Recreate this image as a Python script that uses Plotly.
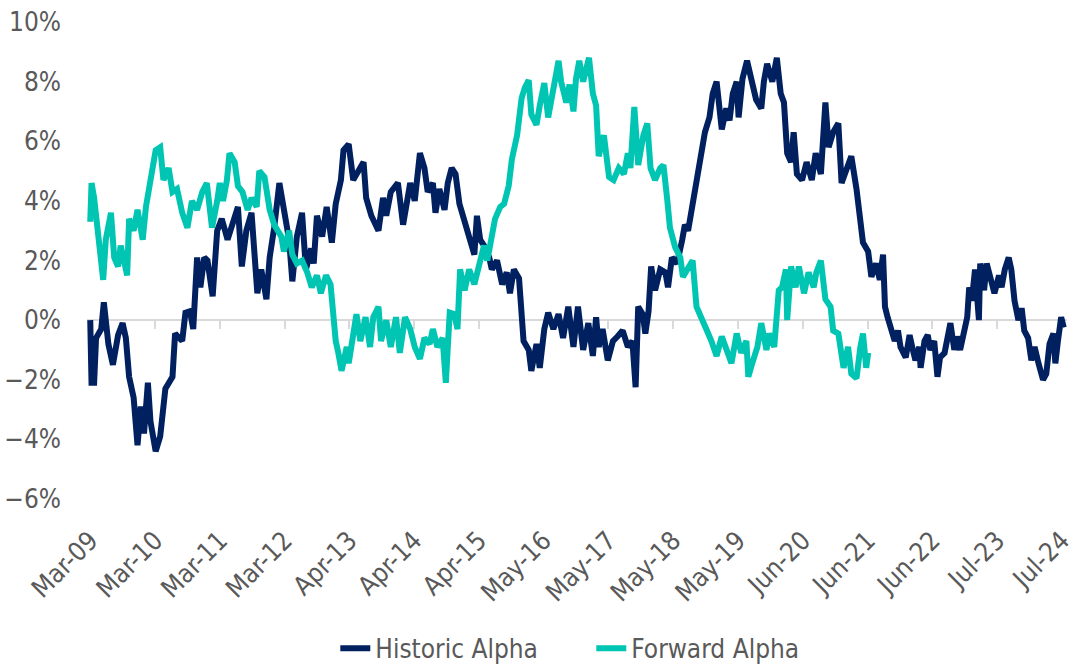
import plotly.graph_objects as go

# Time axis: years elapsed since Mar-09 (one tick label per year step)
tick_labels = ["Mar-09", "Mar-10", "Mar-11", "Mar-12", "Apr-13", "Apr-14", "Apr-15", "May-16",
               "May-17", "May-18", "May-19", "Jun-20", "Jun-21", "Jun-22", "Jul-23", "Jul-24"]
tick_pos = list(range(len(tick_labels)))

# Historic Alpha (%)
hist_t = [0.00, 0.02, 0.06, 0.09, 0.17, 0.21, 0.28, 0.35, 0.43, 0.50, 0.55, 0.60, 0.67, 0.73, 0.78,
          0.83, 0.89, 0.93, 1.01, 1.08, 1.16, 1.27, 1.31, 1.42, 1.47, 1.54, 1.59, 1.65, 1.70, 1.76,
          1.81, 1.86, 1.89, 1.96, 2.03, 2.12, 2.20, 2.28, 2.34, 2.41, 2.49, 2.54, 2.58, 2.64, 2.72,
          2.77, 2.84, 2.92, 2.99, 3.07, 3.12, 3.19, 3.27, 3.33, 3.41, 3.45, 3.50, 3.58, 3.65, 3.73,
          3.79, 3.87, 3.91, 3.99, 4.06, 4.14, 4.22, 4.26, 4.34, 4.45, 4.52, 4.57, 4.64, 4.75, 4.83,
          4.94, 5.01, 5.09, 5.16, 5.21, 5.29, 5.33, 5.39, 5.47, 5.52, 5.58, 5.64, 5.70, 5.78, 5.85,
          5.93, 5.97, 6.02, 6.08, 6.16, 6.20, 6.28, 6.36, 6.43, 6.48, 6.54, 6.62, 6.66, 6.69, 6.77,
          6.81, 6.89, 6.94, 7.01, 7.07, 7.15, 7.23, 7.30, 7.38, 7.46, 7.53, 7.61, 7.69, 7.76, 7.81,
          7.85, 7.91, 7.99, 8.07, 8.14, 8.22, 8.30, 8.37, 8.42, 8.46, 8.53, 8.57, 8.62, 8.66, 8.72,
          8.80, 8.88, 8.92, 8.98, 9.06, 9.14, 9.18, 9.23, 9.29, 9.36, 9.41, 9.49, 9.56, 9.61, 9.67,
          9.75, 9.82, 9.87, 9.92, 9.98, 10.01, 10.07, 10.14, 10.21, 10.28, 10.36, 10.40, 10.45, 10.53,
          10.60, 10.66, 10.71, 10.76, 10.82, 10.86, 10.91, 10.99, 11.06, 11.14, 11.20, 11.28, 11.35,
          11.40, 11.47, 11.55, 11.60, 11.67, 11.75, 11.83, 11.89, 11.93, 12.01, 12.06, 12.13, 12.19,
          12.24, 12.27, 12.31, 12.36, 12.42, 12.47, 12.51, 12.59, 12.65, 12.70, 12.74, 12.80, 12.82,
          12.88, 12.93, 12.97, 13.03, 13.08, 13.12, 13.19, 13.23, 13.28, 13.34, 13.38, 13.43, 13.49,
          13.54, 13.57, 13.61, 13.66, 13.72, 13.74, 13.80, 13.84, 13.89, 13.96, 14.03, 14.07, 14.12,
          14.18, 14.22, 14.27, 14.33, 14.38, 14.42, 14.48, 14.53, 14.58, 14.64, 14.71, 14.76, 14.81,
          14.87, 14.90, 14.94, 14.99, 15.03]
hist_alpha = [0.0, -2.1, -2.1, -0.6, -0.3, 0.6, -0.8, -1.5, -0.5, -0.1, -0.6, -1.9, -2.6, -4.2, -2.9,
              -3.8, -2.1, -3.4, -4.4, -3.9, -2.3, -1.9, -0.45, -0.7, 0.25, 0.3, -0.3, 2.1, 1.1, 2.1,
              2.0, 1.2, 0.8, 3.0, 3.4, 2.7, 3.2, 3.8, 1.8, 3.0, 3.6, 1.9, 0.9, 1.7, 0.7,
              2.1, 3.1, 4.6, 3.6, 2.7, 1.3, 2.8, 3.6, 1.7, 2.4, 1.9, 3.5, 2.8, 3.8, 2.6,
              3.9, 4.7, 5.7, 5.9, 4.7, 5.0, 5.3, 4.1, 3.5, 3.0, 4.1, 3.5, 4.3, 4.6, 3.2,
              4.6, 4.0, 5.6, 5.1, 4.3, 4.6, 3.6, 4.4, 3.7, 4.6, 5.1, 4.9, 3.9, 3.3, 2.8,
              2.2, 3.5, 2.7, 2.5, 2.1, 1.7, 2.0, 1.2, 1.6, 0.9, 1.7, 1.4, 0.3, -0.7, -1.0,
              -1.7, -0.8, -1.6, -0.3, 0.25, -0.3, 0.2, -0.6, 0.45, -0.9, 0.45, -1.0, -0.1, -1.2, 0.1,
              -0.9, -0.3, -1.35, -0.7, -0.55, -0.35, -0.9, -0.7, -2.25, 0.45, 0.2, -0.45, 0.3, 1.8, 1.0,
              1.7, 1.6, 1.1, 2.1, 1.9, 2.7, 3.2, 3.0, 3.8, 4.6, 5.4, 6.3, 6.8, 7.6, 8.0,
              6.4, 7.1, 6.7, 7.6, 8.0, 6.8, 8.1, 8.7, 8.05, 7.4, 7.1, 8.0, 8.6, 8.0,
              8.8, 7.6, 7.3, 5.6, 5.3, 6.3, 4.9, 4.7, 5.3, 4.7, 5.6, 4.9, 7.3,
              5.8, 6.3, 6.6, 4.6, 5.1, 5.5, 4.4, 3.3, 2.6, 2.3, 1.45, 1.9, 1.35,
              2.2, 0.45, 0.1, -0.25, -0.7, -0.35, -0.9, -1.25, -0.5, -1.0, -1.35, -0.9, -1.6,
              -0.7, -0.5, -1.0, -0.7, -1.9, -1.25, -1.1, -0.7, -0.1, -1.0, -0.55, -1.0, -0.5,
              0.1, 1.1, 0.65, 1.7, 0.0, 1.9, 1.0, 1.9, 1.45, 0.9, 1.5, 1.1, 1.7,
              2.1, 1.7, 0.65, 0.0, 0.4, -0.35, -0.6, -1.35, -0.9, -1.45, -2.0, -1.8, -0.8,
              -0.45, -1.45, -0.7, 0.1, -0.25]

# Forward Alpha (%)
fwd_t = [0.00, 0.02, 0.06, 0.12, 0.20, 0.24, 0.32, 0.37, 0.43, 0.47, 0.52, 0.57, 0.60, 0.67, 0.73,
         0.81, 0.86, 0.93, 1.01, 1.08, 1.13, 1.21, 1.27, 1.34, 1.42, 1.50, 1.57, 1.65, 1.73, 1.80,
         1.88, 1.96, 2.00, 2.05, 2.11, 2.15, 2.23, 2.28, 2.35, 2.43, 2.49, 2.57, 2.61, 2.69, 2.77,
         2.84, 2.95, 2.99, 3.07, 3.12, 3.19, 3.27, 3.35, 3.42, 3.50, 3.56, 3.64, 3.71, 3.76, 3.79,
         3.83, 3.88, 3.96, 3.99, 4.03, 4.11, 4.17, 4.25, 4.32, 4.37, 4.45, 4.49, 4.57, 4.64, 4.72,
         4.78, 4.86, 4.94, 5.01, 5.09, 5.16, 5.24, 5.29, 5.36, 5.44, 5.49, 5.55, 5.62, 5.67, 5.71,
         5.78, 5.85, 5.93, 6.00, 6.08, 6.13, 6.20, 6.25, 6.33, 6.39, 6.46, 6.51, 6.59, 6.66, 6.71,
         6.77, 6.81, 6.89, 6.94, 7.01, 7.07, 7.15, 7.23, 7.27, 7.35, 7.40, 7.46, 7.50, 7.55, 7.61,
         7.65, 7.70, 7.76, 7.81, 7.85, 7.93, 8.01, 8.08, 8.16, 8.24, 8.30, 8.34, 8.40, 8.46, 8.54,
         8.60, 8.65, 8.72, 8.80, 8.85, 8.91, 8.95, 9.03, 9.11, 9.15, 9.23, 9.30, 9.36, 9.44, 9.52,
         9.59, 9.67, 9.75, 9.82, 9.90, 9.98, 10.05, 10.13, 10.16, 10.22, 10.30, 10.36, 10.44, 10.48,
         10.56, 10.63, 10.68, 10.74, 10.76, 10.82, 10.89, 10.94, 11.02, 11.09, 11.17, 11.21, 11.28,
         11.35, 11.43, 11.47, 11.55, 11.63, 11.70, 11.75, 11.83, 11.89, 11.93, 11.98, 12.01]
fwd_alpha = [3.3, 4.6, 4.1, 2.7, 1.35, 2.7, 3.6, 2.1, 1.8, 2.5, 2.0, 1.5, 3.4, 3.0, 3.7,
             2.7, 3.8, 4.7, 5.7, 5.8, 4.7, 5.1, 4.3, 4.4, 3.6, 3.1, 4.0, 3.7, 4.3, 4.6,
             3.1, 4.0, 4.6, 4.0, 4.7, 5.6, 5.3, 4.5, 4.3, 3.7, 4.1, 3.8, 5.0, 4.8, 3.7,
             3.2, 2.8, 2.3, 3.0, 2.2, 1.9, 2.0, 1.6, 1.1, 1.5, 0.9, 1.5, 1.2, 0.0, -0.7,
             -1.1, -1.7, -0.9, -1.45, -0.9, 0.2, -0.7, 0.1, -0.9, 0.1, 0.45, -0.7, 0.0, -0.9, 0.1,
             -1.1, 0.1, -0.3, -0.9, -1.3, -0.6, -0.8, -0.3, -0.9, -0.6, -2.1, 0.25, 0.2, -0.3, 1.7,
             1.0, 1.7, 1.2, 1.9, 2.5, 2.0, 3.0, 3.4, 3.8, 3.9, 4.5, 5.4, 6.2, 7.45, 7.8,
             8.05, 6.9, 6.55, 7.2, 7.95, 6.8, 7.9, 8.7, 8.0, 7.3, 7.9, 7.0, 8.1, 8.7, 8.0,
             8.4, 8.8, 7.6, 7.2, 5.5, 6.2, 4.8, 4.7, 5.1, 4.9, 5.6, 5.1, 7.15, 5.2, 6.2,
             6.6, 5.1, 4.7, 5.1, 5.2, 4.0, 3.1, 2.45, 2.1, 1.45, 1.7, 2.0, 0.45, 0.1, -0.35,
             -0.7, -1.2, -0.55, -1.0, -1.45, -0.45, -1.1, -0.7, -1.9, -1.45, -0.9, -0.1, -1.0, -0.45,
             -0.9, 1.0, 1.1, 1.7, 0.0, 1.8, 1.1, 1.8, 0.9, 1.6, 1.1, 1.6, 2.0,
             0.7, 0.45, -0.35, -0.45, -1.6, -0.9, -1.8, -1.95, -0.9, -0.45, -1.6, -1.1]

NAVY = "#002060"
TEAL = "#00C5B2"
TEXT = "#595959"
GRID = "#D9D9D9"
FONT = "Liberation Sans Narrow, Arial Narrow, DejaVu Sans Condensed, sans-serif"

x_range = [-0.05, 15.08]

fig = go.Figure()
fig.add_trace(go.Scatter(x=hist_t, y=hist_alpha, mode="lines", name="Historic Alpha",
                         line=dict(color=NAVY, width=6)))
fig.add_trace(go.Scatter(x=fwd_t, y=fwd_alpha, mode="lines", name="Forward Alpha",
                         line=dict(color=TEAL, width=6)))
# carrier trace for the axis drawn through y = 0
fig.add_trace(go.Scatter(x=[0], y=[0], xaxis="x2", mode="none", showlegend=False,
                         hoverinfo="skip"))

y_min, y_max = -6, 10
fig.update_layout(
    width=1079, height=665,
    margin=dict(l=86, r=4, t=22, b=166),
    paper_bgcolor="white", plot_bgcolor="white",
    font=dict(family=FONT, size=26, color=TEXT),
    showlegend=True,
    legend=dict(orientation="h", xref="container", yref="container",
                x=0.548, xanchor="center", y=0.025, yanchor="middle",
                font=dict(size=26, color=TEXT), entrywidth=211, entrywidthmode="pixels",
                tracegroupgap=0),
    xaxis=dict(range=x_range, tickmode="array", tickvals=tick_pos, ticktext=tick_labels,
               tickangle=-45, showgrid=False, zeroline=False, showline=False, ticks="",
               ticklabelstandoff=20, ticklabeloverflow="allow",
               tickfont=dict(size=26, color=TEXT)),
    xaxis2=dict(range=x_range, overlaying="x", anchor="free",
                position=(0 - y_min) / (y_max - y_min), side="bottom",
                tickmode="array", tickvals=tick_pos, showticklabels=False,
                ticks="outside", ticklen=8, tickwidth=2, tickcolor=GRID,
                showline=True, linecolor=GRID, linewidth=2, showgrid=False,
                zeroline=False, layer="below traces"),
    yaxis=dict(range=[y_min, y_max], dtick=2, ticksuffix="%", showgrid=False,
               zeroline=False, showline=False, ticks="", ticklabelstandoff=25,
               tickfont=dict(size=26, color=TEXT)),
)

fig.write_html("out.html")
